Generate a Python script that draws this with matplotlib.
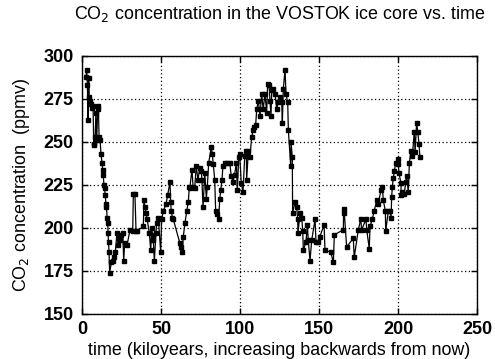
import matplotlib
matplotlib.use("Agg")
import matplotlib.pyplot as plt

age_kyr = [2.5, 3.0, 3.4, 3.8, 4.2, 4.6, 5.0, 5.6, 6.5, 7.0, 7.4, 7.8, 8.3, 8.8, 9.3, 10.0,
           10.4, 10.8, 11.5, 12.0, 12.7, 13.1, 13.4, 13.9, 14.3, 14.7, 15.2, 15.5, 15.9, 16.3,
           16.5, 16.8, 17.1, 17.5, 18.6, 19.4, 20.1, 21.1, 22.1, 22.8, 23.6, 24.2, 24.9, 25.8,
           26.4, 27.0, 28.5, 30.4, 32.1, 32.5, 33.5, 34.2, 34.6, 38.8, 39.2, 39.9, 40.5, 41.3,
           42.6, 43.5, 44.1, 44.7, 45.1, 45.8, 46.8, 47.3, 48.3, 49.8, 50.4, 51.5, 53.2, 54.2,
           55.7, 56.1, 56.5, 57.2, 57.8, 62.0, 62.5, 63.5, 64.1, 65.2, 66.3, 67.3, 67.9, 68.2,
           69.6, 70.3, 71.3, 72.3, 73.4, 74.5, 75.5, 75.9, 76.6, 77.7, 78.7, 79.3, 80.2, 81.8,
           82.5, 83.1, 84.0, 84.6, 85.6, 86.5, 87.2, 87.8, 88.6, 89.2, 90.3, 92.0, 93.5, 94.5,
           95.6, 96.6, 97.7, 98.3, 99.2, 99.8, 100.8, 101.9, 103.0, 104.0, 104.2, 105.3, 106.3,
           107.4, 108.4, 109.1, 109.9, 110.6, 111.6, 112.7, 113.7, 114.7, 115.8, 116.9, 117.5,
           118.4, 119.0, 119.6, 120.1, 121.1, 122.2, 123.2, 124.2, 125.3, 126.4, 126.8, 127.4,
           128.5, 129.1, 130.2, 130.6, 132.1, 132.3, 133.1, 133.3, 134.8, 135.9, 136.5, 136.7,
           138.0, 139.1, 139.7, 140.1, 141.8, 142.6, 143.2, 144.3, 145.4, 147.5, 148.1, 149.6,
           150.6, 153.2, 153.8, 157.4, 159.1, 159.7, 165.4, 165.6, 166.0, 167.5, 171.7, 172.3,
           174.9, 176.4, 177.0, 179.7, 180.2, 181.8, 182.3, 183.7, 185.0, 186.5, 187.5, 189.2,
           190.1, 190.7, 192.0, 192.2, 193.9, 194.9, 195.6, 196.0, 196.4, 197.0, 197.7, 198.5,
           199.8, 200.2, 200.6, 201.9, 202.0, 202.7, 204.0, 204.9, 205.5, 206.5, 207.2, 208.2,
           209.1, 210.3, 210.8, 211.8, 212.5, 213.3, 213.9]

co2_ppmv = [288, 292, 283, 263, 287, 276, 274, 272, 270, 271, 249, 248, 253, 267, 251, 271,
            269, 253, 251, 243, 238, 234, 231, 225, 223, 219, 214, 212, 206, 203,
            197, 192, 186, 174, 180, 181, 183, 186, 197, 190, 195, 193, 196, 197,
            181, 191, 190, 199, 198, 220, 220, 198, 198, 201, 216, 212, 209, 205,
            197, 187, 200, 196, 193, 181, 197, 203, 206, 186, 205, 210, 214, 219,
            227, 215, 210, 206, 205, 191, 189, 186, 195, 203, 210, 215, 224, 223,
            234, 224, 223, 236, 228, 235, 233, 228, 212, 232, 217, 224, 238, 247,
            243, 237, 228, 210, 208, 205, 217, 222, 228, 236, 238, 238, 238, 230,
            227, 231, 238, 222, 241, 243, 226, 221, 242, 245, 228, 245, 241,
            253, 257, 259, 260, 269, 274, 265, 278, 269, 278, 267, 284,
            283, 274, 265, 280, 281, 278, 269, 273, 276, 273, 261, 281,
            292, 278, 273, 257, 236, 250, 241, 209, 215, 212, 205, 197,
            209, 206, 198, 187, 192, 202, 193, 181, 193, 205, 192, 192,
            195, 202, 187, 186, 180, 196, 199, 211, 209, 189, 194, 183,
            199, 205, 199, 205, 199, 188, 201, 205, 210, 216, 214, 222,
            224, 216, 210, 198, 210, 210, 206, 218, 224, 229, 233, 238,
            240, 237, 232, 226, 219, 221, 220, 227, 230, 221, 238, 245,
            242, 256, 244, 261, 256, 249, 241]

x_ticks = [0, 50, 100, 150, 200, 250]
y_ticks = [150, 175, 200, 225, 250, 275, 300]

plt.rcParams['font.family'] = ['Liberation Sans', 'DejaVu Sans']

fig = plt.figure(figsize=(4.95, 3.59), dpi=100)
ax = fig.add_axes([82/495, 1 - 314/359, 395/495, 258/359])

ax.plot(age_kyr, co2_ppmv, color='black', lw=0.9, marker='s', ms=2.6,
        mfc='black', mec='black')

ax.set_xlim(0, 250)
ax.set_ylim(150, 300)
ax.set_xticks(x_ticks)
ax.set_yticks(y_ticks)
ax.grid(True, color='black', linestyle=(0, (1, 2)), linewidth=0.9)
ax.tick_params(direction='in', length=4, width=1, top=True, right=True,
               labelsize=13, colors='black')
ax.tick_params(axis='x', pad=5)
ax.tick_params(axis='y', pad=6)
for lab in ax.get_xticklabels() + ax.get_yticklabels():
    lab.set_fontweight('semibold')
for s in ax.spines.values():
    s.set_linewidth(1.0)
    s.set_color('black')

ax.set_xlabel('time (kiloyears, increasing backwards from now)', fontsize=12.9, labelpad=3)
ax.set_ylabel('CO$_2$ concentration  (ppmv)', fontsize=12.9, labelpad=8)
fig.text(279.5/495, 1 - 14/359, 'CO$_2$ concentration in the VOSTOK ice core vs. time',
         ha='center', va='center', fontsize=12.9)

fig.savefig('out.png', dpi=100)
